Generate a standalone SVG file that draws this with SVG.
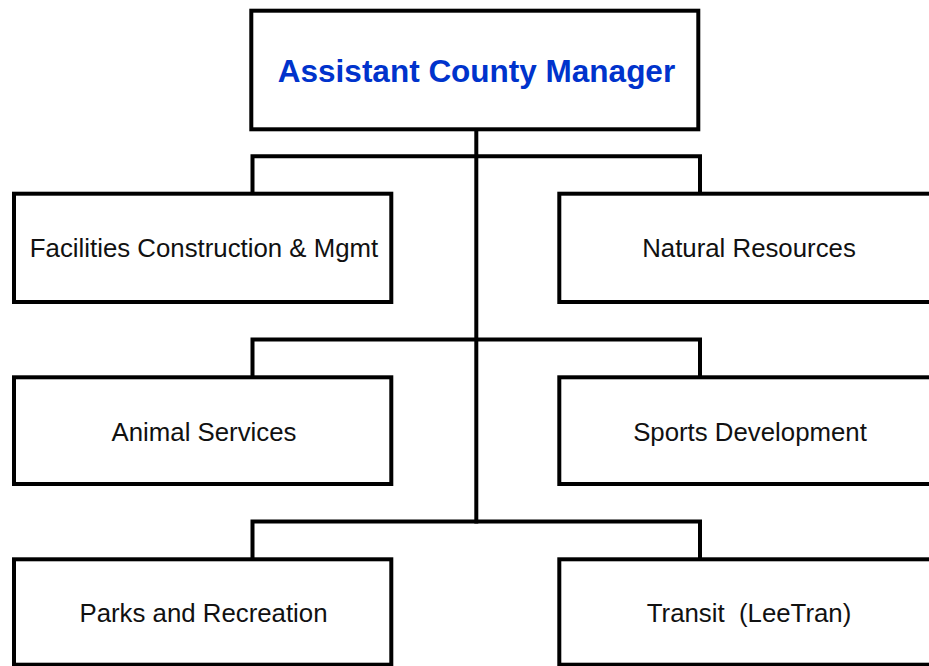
<svg xmlns="http://www.w3.org/2000/svg" width="929" height="666" viewBox="0 0 929 666">
<style>
.box{fill:#fff;stroke:#000;stroke-width:4}
.conn{fill:none;stroke:#000;stroke-width:4;stroke-linecap:square;stroke-linejoin:miter}
.lbl{font-family:"Liberation Sans",Arial,sans-serif;font-size:25.8px;fill:#111;text-anchor:middle;white-space:pre}
.title{font-family:"Liberation Sans",Arial,sans-serif;font-size:31.5px;font-weight:bold;fill:#0033cc;text-anchor:middle}
</style>
<rect width="929" height="666" fill="#fff"/>
<g id="connectors">
<path class="conn" d="M476.3 131 V521.5"/>
<path class="conn" d="M252.5 193.7 V156.3 H700 V193.7"/>
<path class="conn" d="M252.5 377.3 V339.5 H700 V377.3"/>
<path class="conn" d="M252.5 559.3 V521.5 H700 V559.3"/>
</g>
<g id="assistant-county-manager">
<rect class="box" x="251.3" y="10.7" width="447" height="118.6"/>
<text class="title" x="476.5" y="82.3">Assistant County Manager</text>
</g>
<g id="facilities">
<rect class="box" x="14" y="193.7" width="377.3" height="108.3"/>
<text class="lbl" x="204" y="257.3">Facilities Construction &amp; Mgmt</text>
</g>
<g id="natural-resources">
<rect class="box" x="559.3" y="193.7" width="380" height="108.3"/>
<text class="lbl" x="749" y="257.3">Natural Resources</text>
</g>
<g id="animal-services">
<rect class="box" x="14" y="377.3" width="377.3" height="106.7"/>
<text class="lbl" x="204" y="440.7">Animal Services</text>
</g>
<g id="sports-development">
<rect class="box" x="559.3" y="377.3" width="380" height="106.7"/>
<text class="lbl" x="750" y="440.7">Sports Development</text>
</g>
<g id="parks-recreation">
<rect class="box" x="14" y="559.3" width="377.3" height="105.4"/>
<text class="lbl" x="203.5" y="621.5">Parks and Recreation</text>
</g>
<g id="transit">
<rect class="box" x="559.3" y="559.3" width="380" height="105.4"/>
<text class="lbl" x="749" y="621.5" xml:space="preserve">Transit  (LeeTran)</text>
</g>
</svg>
